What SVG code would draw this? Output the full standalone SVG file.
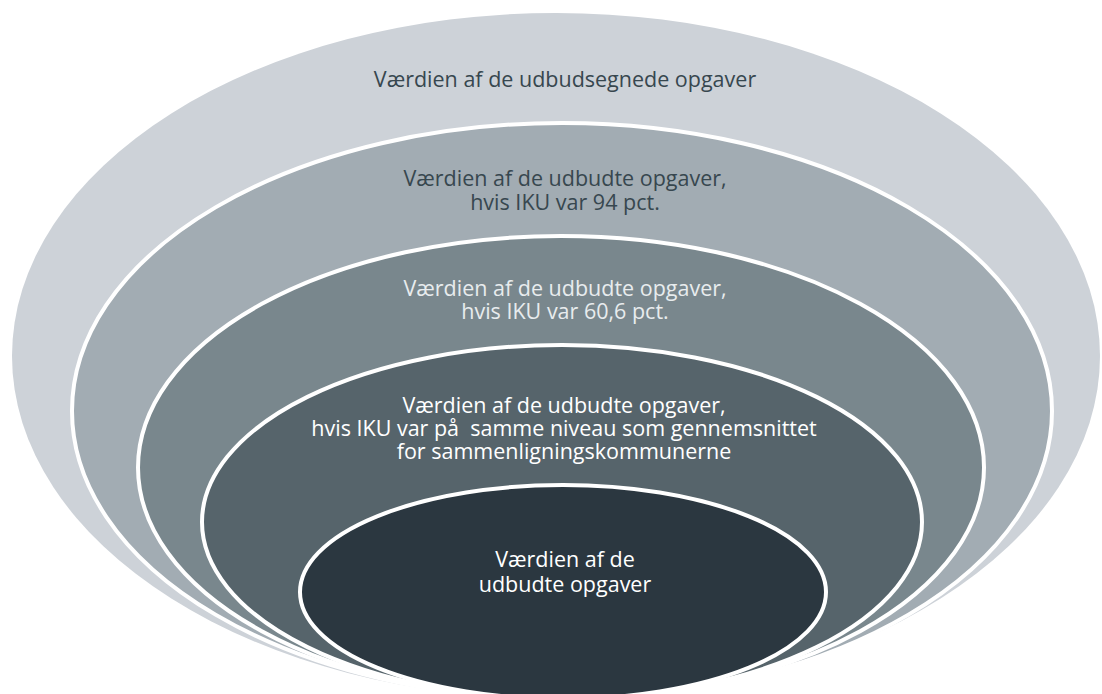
<svg xmlns="http://www.w3.org/2000/svg" width="1102" height="694" viewBox="0 0 1102 694">
<style>
.ring{stroke:#ffffff;stroke-width:4}
.lbl{font-family:"Open Sans","Liberation Sans",sans-serif;font-size:21.5px;font-weight:500;text-anchor:middle}
.dark{fill:#37474f}
.light{fill:#e8ecee}
.white{fill:#ffffff}
</style>
<rect x="0" y="0" width="1102" height="694" fill="#ffffff"/>
<g id="node1">
<ellipse cx="556" cy="356" rx="544" ry="343" fill="#cdd2d8"/>
<text class="lbl dark" x="565" y="87">Værdien af de udbudsegnede opgaver</text>
</g>
<g id="node2">
<ellipse class="ring" cx="562" cy="411" rx="490" ry="288" fill="#a2acb3"/>
<text class="lbl dark" x="565" y="186">Værdien af de udbudte opgaver,</text>
<text class="lbl dark" x="565" y="210">hvis IKU var 94 pct.</text>
</g>
<g id="node3">
<ellipse class="ring" cx="561" cy="467.5" rx="423" ry="231.5" fill="#79878d"/>
<text class="lbl light" x="565" y="296">Værdien af de udbudte opgaver,</text>
<text class="lbl light" x="565" y="319">hvis IKU var 60,6 pct.</text>
</g>
<g id="node4">
<ellipse class="ring" cx="562" cy="522" rx="360" ry="177" fill="#56646b"/>
<text class="lbl white" x="564" y="413">Værdien af de udbudte opgaver,</text>
<text class="lbl white" x="564" y="436" xml:space="preserve">hvis IKU var på  samme niveau som gennemsnittet</text>
<text class="lbl white" x="564" y="459">for sammenligningskommunerne</text>
</g>
<g id="node5">
<ellipse class="ring" cx="563" cy="592" rx="263" ry="107" fill="#2b3740"/>
<text class="lbl white" x="565" y="567">Værdien af de</text>
<text class="lbl white" x="565" y="592">udbudte opgaver</text>
</g>
<g id="connectors"></g>
</svg>
